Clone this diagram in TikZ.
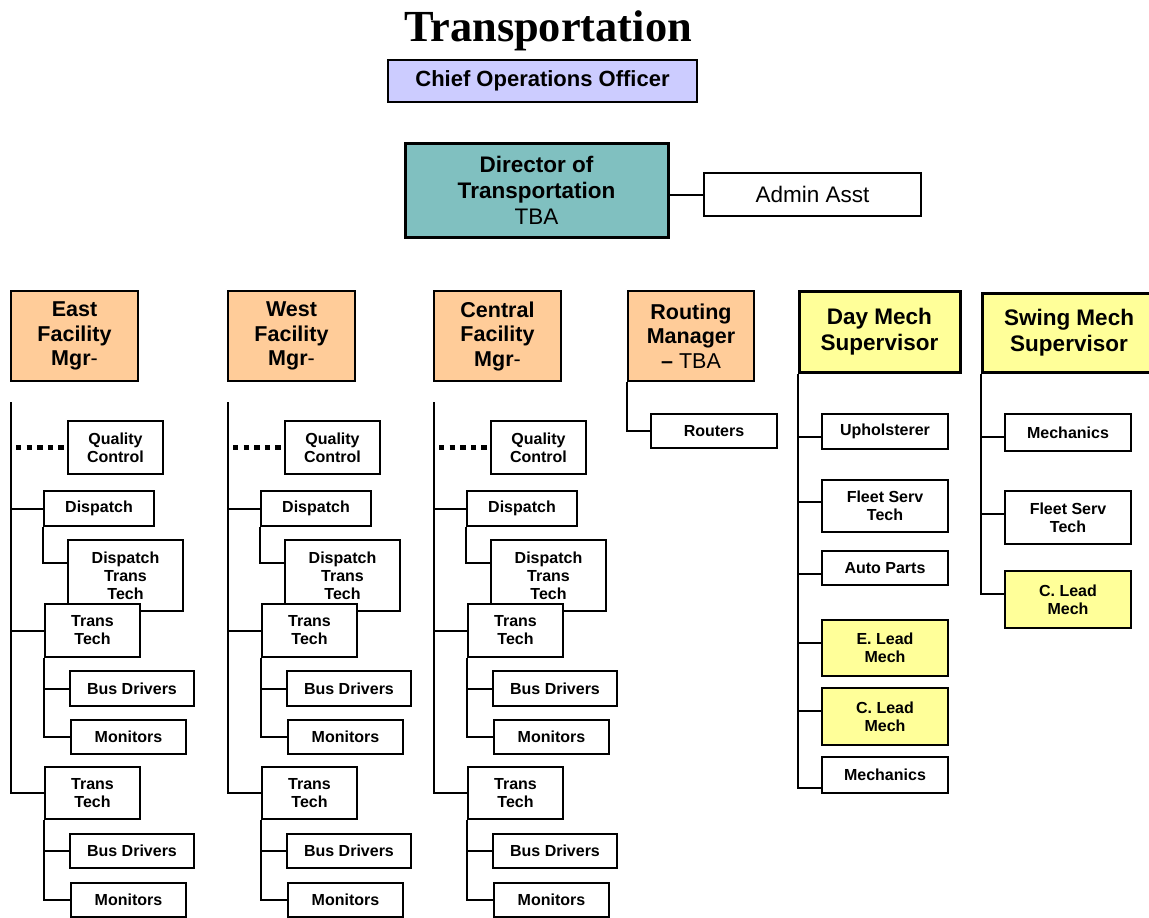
\documentclass[tikz,border=0pt]{standalone}
\usepackage{fontspec}
\setmainfont{Liberation Sans}
\newfontfamily\titlefont{Liberation Serif}
\definecolor{coofill}{HTML}{CCCCFF}
\definecolor{dirfill}{HTML}{80C0C0}
\definecolor{facfill}{HTML}{FFCC99}
\definecolor{mechfill}{HTML}{FFFF99}
\tikzset{
  box/.style={draw, line width=2.8pt, fill=white, inner sep=0pt, align=center,
    font=\bfseries\fontsize{16}{18}\selectfont},
  big/.style={box, font=\bfseries\fontsize{21.5}{24.5}\selectfont},
  huge/.style={box, line width=3pt, font=\bfseries\fontsize{22.5}{26}\selectfont},
  conn/.style={line width=2pt},
  dotconn/.style={line width=4.5pt, dash pattern=on 5.3pt off 5.3pt},
}
% style, name, x1, y1, x2, y2, text
\newcommand\ob[7]{\node[#1, minimum width={((#5)-(#3))*1pt}, minimum height={((#6)-(#4))*1pt}] (#2) at ({((#3)+(#5))/2},{((#4)+(#6))/2}) {#7};}
\newcommand\facility[3]{%
  \ob{big,fill=facfill}{#1}{#2}{291}{#2+127}{381}{#3\\Facility\\Mgr{\mdseries-}}
  \coordinate (#1-v) at (#2,402);
  \ob{box}{#1-qc}{#2+57}{421}{#2+152}{474}{Quality\\Control}
  \ob{box}{#1-d}{#2+33}{491}{#2+143}{526}{Dispatch}
  \ob{box}{#1-dtt}{#2+57}{540}{#2+172}{611}{Dispatch\\Trans\\Tech}
  \ob{box}{#1-tt1}{#2+34}{604}{#2+129}{657}{Trans\\Tech}
  \ob{box}{#1-bd1}{#2+59}{671}{#2+183}{706}{Bus Drivers}
  \ob{box}{#1-m1}{#2+60}{720}{#2+175}{754}{Monitors}
  \ob{box}{#1-tt2}{#2+34}{767}{#2+129}{819}{Trans\\Tech}
  \ob{box}{#1-bd2}{#2+59}{834}{#2+183}{868}{Bus Drivers}
  \ob{box}{#1-m2}{#2+60}{883}{#2+175}{917}{Monitors}
  \draw[conn] (#1-v) -- (#1-v |- #1-tt2.west) -- (#1-tt2.west);
  \draw[dotconn] ([xshift=5pt]#1-v |- #1-qc.west) -- (#1-qc.west);
  \draw[conn] (#1-v |- #1-d.west) -- (#1-d.west);
  \draw[conn] (#1-v |- #1-tt1.west) -- (#1-tt1.west);
  \draw[conn] (#1-d.south west) |- ([yshift=12.5pt]#1-dtt.west);
  \draw[conn] (#1-tt1.south west) |- (#1-bd1.west);
  \draw[conn] (#1-tt1.south west) |- (#1-m1.west);
  \draw[conn] (#1-tt2.south west) |- (#1-bd2.west);
  \draw[conn] (#1-tt2.south west) |- (#1-m2.west);
}
\begin{document}
\begin{tikzpicture}[x=1pt, y=-1pt, line join=miter]
\useasboundingbox (0,0) rectangle (1149,918);
\fill[white] (0,0) rectangle (1149,918);

\node[anchor=base, inner sep=0pt, font=\titlefont\bfseries\fontsize{44.4}{50}\selectfont] (title) at (548,41) {Transportation};

\ob{box, fill=coofill, font=\bfseries\fontsize{22}{26}\selectfont}{coo}{388}{60}{697}{102}{Chief Operations Officer}
\ob{huge, fill=dirfill}{dir}{405}{143}{668}{237}{Director of\\Transportation\\{\mdseries TBA}}
\ob{box, font=\mdseries\fontsize{22.5}{26}\selectfont}{admin}{704}{173}{921}{216}{Admin Asst}
\draw[conn] (admin.west) -- (admin.west -| dir.east);

\facility{east}{11}{East}
\facility{west}{228}{West}
\facility{cent}{434}{Central}

% Routing
\ob{big, fill=facfill}{rout}{628}{291}{754}{381}{Routing\\Manager\\– {\mdseries TBA}}
\ob{box}{routers}{651}{414}{777}{448}{Routers}
\draw[conn] (rout.south west) |- (routers.west);

% Day mech
\ob{huge, fill=mechfill}{day}{799}{291}{960}{372}{Day Mech\\Supervisor}
\ob{box}{d-uph}{822}{414}{948}{449}{Upholsterer}
\ob{box}{d-fst}{822}{480}{948}{532}{Fleet Serv\\Tech}
\ob{box}{d-ap}{822}{551}{948}{585}{Auto Parts}
\ob{box, fill=mechfill}{d-el}{822}{620}{948}{676}{E. Lead\\Mech}
\ob{box, fill=mechfill}{d-cl}{822}{688}{948}{745}{C. Lead\\Mech}
\ob{box}{d-mech}{822}{757}{948}{793}{Mechanics}
\draw[conn] ([yshift=-5pt]d-uph.west) -| (day.south west);
\draw[conn] ([yshift=4pt]d-fst.west) -| (day.south west);
\draw[conn] ([yshift=-6pt]d-ap.west) -| (day.south west);
\draw[conn] ([yshift=5pt]d-el.west) -| (day.south west);
\draw[conn] ([yshift=5.5pt]d-cl.west) -| (day.south west);
\draw[conn] ([yshift=-13pt]d-mech.west) -| (day.south west);

% Swing mech
\ob{huge, fill=mechfill}{swing}{982}{293}{1156}{372}{Swing Mech\\Supervisor}
\ob{box}{s-mech}{1005}{414}{1131}{451}{Mechanics}
\ob{box}{s-fst}{1005}{491}{1131}{544}{Fleet Serv\\Tech}
\ob{box, fill=mechfill}{s-cl}{1005}{571}{1131}{628}{C. Lead\\Mech}
\draw[conn] ([yshift=-4pt]s-mech.west) -| (swing.south west);
\draw[conn] ([yshift=3.5pt]s-fst.west) -| (swing.south west);
\draw[conn] ([yshift=5.5pt]s-cl.west) -- ++(-23,0) coordinate (s-end) -- (s-end |- swing.south west);
\end{tikzpicture}
\end{document}
